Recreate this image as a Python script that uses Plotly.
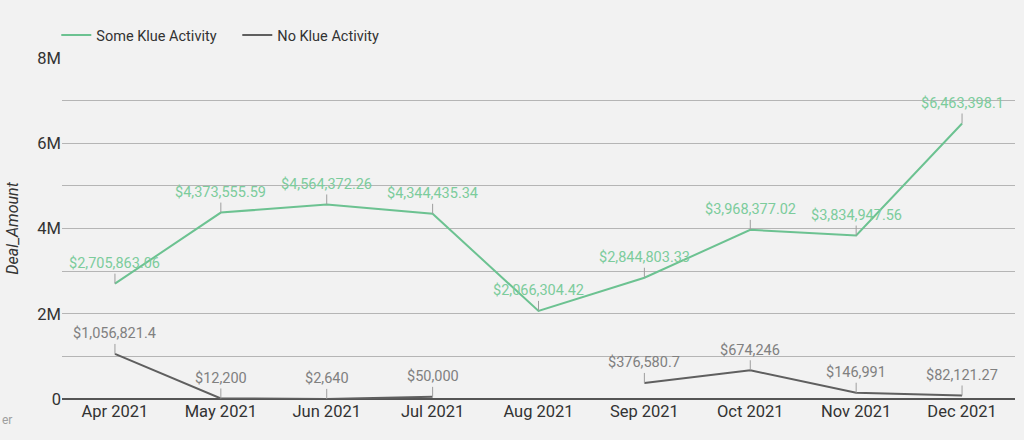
import plotly.graph_objects as go

months = ["Apr 2021", "May 2021", "Jun 2021", "Jul 2021", "Aug 2021",
          "Sep 2021", "Oct 2021", "Nov 2021", "Dec 2021"]
some_klue = [2705863.06, 4373555.59, 4564372.26, 4344435.34, 2066304.42,
             2844803.33, 3968377.02, 3834947.56, 6463398.1]
no_klue = [1056821.4, 12200, 2640, 50000, None,
           376580.7, 674246, 146991, 82121.27]
y_ticks = [0, 2e6, 4e6, 6e6, 8e6]
y_tick_labels = ["0", "2M", "4M", "6M", "8M"]

GREEN = "#6cc291"
LABEL_GREEN = "#7ccc9c"
GRAY = "#5f5f5f"
LABEL_GRAY = "#808080"
BG = "#f2f2f2"


def fmt(v):
    s = f"{v:,.2f}".rstrip("0").rstrip(".")
    return "$" + s


fig = go.Figure()
fig.add_trace(go.Scatter(x=months, y=some_klue, mode="lines", name="Some Klue Activity",
                         line=dict(color=GREEN, width=2)))
fig.add_trace(go.Scatter(x=months, y=no_klue, mode="lines", name="No Klue Activity",
                         line=dict(color=GRAY, width=2), connectgaps=False))

annotations = []
for series, color in ((some_klue, LABEL_GREEN), (no_klue, LABEL_GRAY)):
    for m, v in zip(months, series):
        if v is None:
            continue
        annotations.append(dict(x=m, y=v, xref="x", yref="y", text=fmt(v),
                                showarrow=True, arrowhead=0, arrowwidth=1,
                                arrowcolor="#9e9e9e", ax=0, ay=-20,
                                font=dict(family="Roboto", size=14.5, color=color)))
annotations.append(dict(x=-62 / 953, y=-21 / 341, xref="paper", yref="paper",
                        xanchor="left", yanchor="middle", text="er", showarrow=False,
                        font=dict(family="Roboto", size=12, color="#9e9e9e")))

fig.update_layout(
    width=1024, height=440,
    margin=dict(l=62, r=9, t=58, b=41, autoexpand=False),
    paper_bgcolor=BG, plot_bgcolor=BG,
    font=dict(family="Roboto", color="#333333"),
    showlegend=True,
    legend=dict(orientation="h", x=-0.006, xanchor="left", y=1.067, yanchor="middle",
                font=dict(family="Roboto", size=14.5, color="#333333"),
                bgcolor="rgba(0,0,0,0)", itemwidth=30, entrywidth=136),
    annotations=annotations,
    xaxis=dict(showgrid=False, showline=False, ticks="", zeroline=False,
               tickfont=dict(family="Roboto", size=16.5, color="#333333"),
               range=[-0.5, len(months) - 0.5]),
    yaxis=dict(range=[0, 8e6], tickvals=y_ticks, ticktext=y_tick_labels,
               showgrid=True, gridcolor="#b5b5b5", gridwidth=1,
               minor=dict(dtick=1e6, showgrid=True, gridcolor="#b5b5b5", gridwidth=1),
               zeroline=True, zerolinecolor="#555555", zerolinewidth=1.5,
               tickfont=dict(family="Roboto", size=16.5, color="#333333"),
               title=dict(text="<i>Deal_Amount</i>", standoff=14,
                          font=dict(family="Roboto", size=16, color="#333333"))),
)

fig.write_html("out.html", config={"displayModeBar": False},
               post_script="document.body.style.margin='0';document.body.style.background='%s';" % BG)
